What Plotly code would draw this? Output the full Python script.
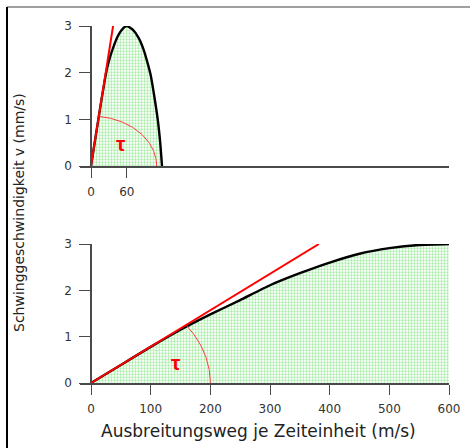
import numpy as np
import plotly.graph_objects as go

W, H = 470, 448

# Upper panel: short, steep pulse
top_x = [0, 8, 16, 22, 27, 32, 37, 42, 47, 53, 60, 70, 80, 88, 95, 100, 106, 112, 116, 119]
top_v = [0, 0.65, 1.3, 1.76, 2.1, 2.34, 2.53, 2.7, 2.83, 2.94, 3.0, 2.92, 2.74, 2.5, 2.2, 1.95, 1.5, 0.98, 0.5, 0]
top_tangent_x = [0, 37]
top_tangent_v = [0, 3]
top_arc_rx, top_arc_ry = 110, 1.07
top_ticks = [0, 60]

# Lower panel: long, gentle rise
bot_x = [0, 50, 100, 150, 200, 250, 300, 350, 400, 450, 500, 550, 600]
bot_v = [0, 0.39, 0.78, 1.15, 1.48, 1.79, 2.11, 2.37, 2.6, 2.79, 2.91, 2.98, 3.0]
bot_tangent_x = [0, 382]
bot_tangent_v = [0, 3]
bot_arc_rx, bot_arc_ry = 200, 2.07
bot_ticks = [0, 100, 200, 300, 400, 500, 600]

v_ticks = [0, 1, 2, 3]

x_title = "Ausbreitungsweg je Zeiteinheit (m/s)"
y_title = "Schwinggeschwindigkeit v (mm/s)"

FONT = "DejaVu Sans"
AXC = "#4a4a4a"
TXC = "#333333"


def arc(rx, ry, tx, tv):
    """Quarter-ellipse marking the angle between the tangent and the x axis."""
    slope = tv[1] / tx[1]
    t0 = np.arctan(slope * rx / ry)
    t = np.linspace(t0, 0, 60)
    return rx * np.cos(t), ry * np.sin(t)


fig = go.Figure()

for xs, vs, tx, tv, rx, ry, xa, ya in [
    (top_x, top_v, top_tangent_x, top_tangent_v, top_arc_rx, top_arc_ry, "x2", "y2"),
    (bot_x, bot_v, bot_tangent_x, bot_tangent_v, bot_arc_rx, bot_arc_ry, "x", "y"),
]:
    fig.add_trace(go.Scatter(
        x=xs, y=vs, mode="lines", xaxis=xa, yaxis=ya,
        line=dict(color="black", width=2.4, shape="spline", smoothing=0.5),
        fill="tozeroy", fillcolor="rgba(0,0,0,0)",
        fillpattern=dict(shape=".", fgcolor="#4fd84f", bgcolor="white", size=3, solidity=0.45),
        cliponaxis=False, hoverinfo="skip",
    ))
    ax, ay = arc(rx, ry, tx, tv)
    fig.add_trace(go.Scatter(
        x=ax, y=ay, mode="lines", xaxis=xa, yaxis=ya,
        line=dict(color="#ff3b3b", width=1), hoverinfo="skip",
    ))
    fig.add_trace(go.Scatter(
        x=tx, y=tv, mode="lines", xaxis=xa, yaxis=ya,
        line=dict(color="#ff0000", width=2), cliponaxis=False, hoverinfo="skip",
    ))

x_dom = [80 / W, 449 / W]
x_rng = [-11 / 0.5967, 600]
y_pos = 91 / W

common_x = dict(domain=x_dom, range=x_rng, showgrid=False, zeroline=False, showline=True,
                linecolor=AXC, linewidth=1.5, ticks="outside", ticklen=10, tickcolor=AXC,
                tickwidth=1.2, ticklabelstandoff=4, automargin=False,
                tickfont=dict(family=FONT, size=12, color=TXC), fixedrange=True)
common_y = dict(range=[0, 3], showgrid=False, zeroline=False, showline=True, anchor="free",
                position=y_pos, linecolor=AXC, linewidth=1.5, ticks="outside", ticklen=11,
                tickcolor=AXC, tickwidth=1.2, tickvals=v_ticks, ticklabelstandoff=5,
                automargin=False,
                tickfont=dict(family=FONT, size=12, color=TXC), fixedrange=True)

fig.update_layout(
    width=W, height=H, margin=dict(l=0, r=0, t=0, b=0, autoexpand=False),
    paper_bgcolor="white", plot_bgcolor="white", showlegend=False,
    xaxis=dict(common_x, anchor="y", tickvals=bot_ticks),
    yaxis=dict(common_y, domain=[1 - 383 / H, 1 - 244 / H]),
    xaxis2=dict(common_x, anchor="y2", tickvals=top_ticks),
    yaxis2=dict(common_y, domain=[1 - 166 / H, 1 - 26 / H]),
    annotations=[
        dict(text="τ", x=50, y=0.49, xref="x2", yref="y2", showarrow=False,
             xanchor="center", yanchor="middle",
             font=dict(family="Liberation Sans", size=21, color="#ff0000", weight="bold")),
        dict(text="τ", x=142, y=0.45, xref="x", yref="y", showarrow=False,
             xanchor="center", yanchor="middle",
             font=dict(family="Liberation Sans", size=21, color="#ff0000", weight="bold")),
        dict(text=x_title, x=258 / W, y=1 - 431 / H, xref="paper", yref="paper",
             xanchor="center", yanchor="middle",
             showarrow=False, font=dict(family=FONT, size=17, color="#222222")),
        dict(text=y_title, x=19 / W, y=1 - 213 / H, xref="paper", yref="paper",
             xanchor="center", yanchor="middle",
             showarrow=False, textangle=-90, font=dict(family=FONT, size=14, color="#222222")),
    ],
    shapes=[
        dict(type="line", xref="paper", yref="paper", x0=7 / W, x1=1, y0=1 - 7 / H, y1=1 - 7 / H,
             line=dict(color="#a0a0a0", width=2)),
        dict(type="line", xref="paper", yref="paper", x0=7 / W, x1=7 / W, y0=1 - 7 / H, y1=0,
             line=dict(color="black", width=2)),
    ],
)

fig.write_html("out.html", post_script="document.body.style.margin='0';"
               "document.body.style.overflow='hidden';")
